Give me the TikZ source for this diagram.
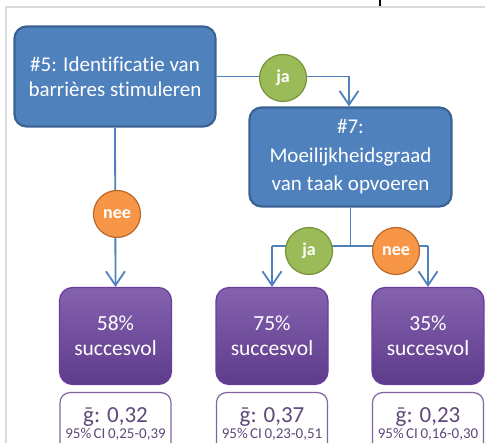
\documentclass[tikz,border=0pt]{standalone}
\usepackage{fontspec}
\setmainfont{Carlito}[Ligatures={NoCommon}]
\usetikzlibrary{arrows.meta}
\definecolor{bluefill}{HTML}{4F81BD}
\definecolor{blueedge}{HTML}{3A6394}
\definecolor{greenfill}{HTML}{9BBB59}
\definecolor{greenedge}{HTML}{76923C}
\definecolor{orangefill}{HTML}{F79646}
\definecolor{orangeedge}{HTML}{B8682C}
\definecolor{purptop}{HTML}{8462AE}
\definecolor{purpbot}{HTML}{5E3C8C}
\definecolor{purpedge}{HTML}{6A3C9C}
\definecolor{purpline}{HTML}{8064A2}
\definecolor{purptext}{HTML}{5F497A}
\definecolor{framegray}{HTML}{D9D9D9}
\tikzset{
  decbox/.style={draw=blueedge, line width=2.2pt, fill=bluefill, rounded corners=12pt,
    text=white, font=\fontsize{21}{25}\selectfont, align=center, inner sep=0pt},
  resbox/.style={draw=purpedge, line width=1.2pt, top color=purptop, bottom color=purpbot,
    rounded corners=13pt, text=white, font=\fontsize{21.5}{25}\selectfont, align=center,
    minimum width=112pt, minimum height=97pt, inner sep=0pt},
  statbox/.style={draw=purpline, line width=1.2pt, fill=white, rounded corners=10pt,
    minimum width=111pt, minimum height=70pt, inner sep=0pt},
  jabub/.style={circle, draw=greenedge, line width=1.2pt, fill=greenfill, text=white,
    font=\fontsize{18}{18}\selectfont\bfseries, minimum size=47pt, inner sep=0pt},
  neebub/.style={circle, draw=orangeedge, line width=1.2pt, fill=orangefill, text=white,
    font=\fontsize{18}{18}\selectfont\bfseries, minimum size=47pt, inner sep=0pt},
  conn/.style={draw=bluefill, line width=1.8pt},
  arr/.style={conn, -{Straight Barb[length=14pt, width=19pt, line width=1.8pt]}},
  gtext/.style={font=\fontsize{23}{23}\selectfont, text=purptext, anchor=base},
  citext/.style={font=\fontsize{15}{15}\selectfont, text=purptext, anchor=base},
}
\begin{document}
\begin{tikzpicture}[x=1pt, y=-1pt]
\useasboundingbox (0,0) rectangle (485,443);
\clip (0,0) rectangle (485,443);
% frame
\draw[framegray, line width=2pt] (6,450) -- (6,7) -- (490,7);
\draw[black, line width=2.4pt] (380,0) -- (380,6.5);

% decision boxes
\node[decbox, minimum width=201pt, minimum height=100pt] (d5) at (115,76.5)
  {\#5: Identificatie van\\barrières stimuleren};
\node[decbox, minimum width=202pt, minimum height=99pt, font=\fontsize{21}{28.5}\selectfont] (d7) at (350.5,157)
  {\#7:\\Moeilijkheidsgraad\\van taak opvoeren};

% result boxes
\node[resbox] (r1) at (115.5,336) {58\%\\succesvol};
\node[resbox] (r2) at (272,336) {75\%\\succesvol};
\node[resbox] (r3) at (428,336) {35\%\\succesvol};

% stat boxes
\node[statbox, anchor=north] (s1) at (115.5,392) {};
\node[statbox, anchor=north] (s2) at (272,392) {};
\node[statbox, anchor=north] (s3) at (428,392) {};
\node[gtext] (s1g) at ([yshift=-31pt]s1.north) {\={g}: 0,32};
\node[gtext] (s2g) at ([yshift=-31pt]s2.north) {\={g}: 0,37};
\node[gtext] (s3g) at ([yshift=-31pt]s3.north) {\={g}: 0,23};
\node[citext] (s1c) at ([yshift=-46.5pt]s1.north) {95\%\,CI\,0,25-0,39};
\node[citext] (s2c) at ([yshift=-46.5pt]s2.north) {95\%\,CI\,0,23-0,51};
\node[citext] (s3c) at ([yshift=-46.5pt]s3.north) {95\%\,CI\,0,16-0,30};

% junction coordinates
\coordinate (j1) at (349,76.5);
\coordinate (j2) at (350.5,246);
\coordinate (jl) at (272,246);
\coordinate (jr) at (428,246);

% connectors
\draw[conn] (d5.east |- j1) -- (j1);
\draw[arr] (j1) -- (j1 |- d7.north);
\draw[arr] (d5.south) -- (r1.north);
\draw[conn] (d7.south) -- (j2);
\draw[conn] (jl) -- (jr);
\draw[arr] (jl) -- (r2.north);
\draw[arr] (jr) -- (r3.north);

% bubbles
\node[jabub] (b1) at (283,78) {ja};
\node[neebub] (b2) at (117,214) {nee};
\node[jabub] (b3) at (309,251) {ja};
\node[neebub] (b4) at (396,251) {nee};
\end{tikzpicture}
\end{document}
